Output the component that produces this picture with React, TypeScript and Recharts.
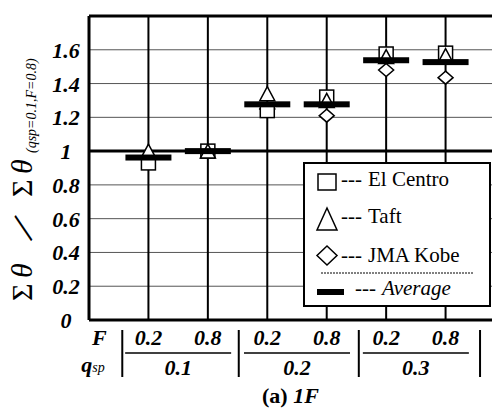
import { ScatterChart, Scatter, XAxis, YAxis, CartesianGrid, ReferenceLine, Legend } from 'recharts';

// category positions on the x axis (F within each qsp group)
const categories = [1, 2, 3, 4, 5, 6];
const fLabels = ['0.2', '0.8', '0.2', '0.8', '0.2', '0.8'];
const qspLabels = ['0.1', '0.2', '0.3'];
const groupCenters = [1.5, 3.5, 5.5];
const groupSeparators = [0.56, 2.52, 4.54, 6.58];
const yTicks = [0, 0.2, 0.4, 0.6, 0.8, 1, 1.2, 1.4, 1.6];

// normalized values
const elCentro = [0.93, 1.0, 1.24, 1.32, 1.575, 1.58];
const taft = [1.0, 1.0, 1.34, 1.3, 1.56, 1.565];
const jmaKobe = [0.955, 1.0, 1.25, 1.21, 1.48, 1.435];
const average = [0.962, 1.0, 1.277, 1.277, 1.538, 1.527];

const toPoints = (vals: number[]) => categories.map((c, i) => ({ x: c, y: vals[i] }));

const SERIF = 'Liberation Serif';

// bold italic label text used for axis ticks
const Lbl = ({ children, ...rest }: any) => (
  <text fontFamily={SERIF} fontSize={22} fontWeight={700} fontStyle="italic" fill="#000" {...rest}>
    {children}
  </text>
);

const SquareMark = (p: any) => (
  <rect x={p.cx - 7} y={p.cy - 7} width={14} height={14} fill="#fff" stroke="#000" strokeWidth={1.5} />
);
const TriangleMark = (p: any) => (
  <path d={`M${p.cx},${p.cy - 7} L${p.cx + 7.5},${p.cy + 7} L${p.cx - 7.5},${p.cy + 7} Z`} fill="#fff" stroke="#000" strokeWidth={1.5} />
);
const DiamondMark = (p: any) => (
  <path d={`M${p.cx},${p.cy - 6.5} L${p.cx + 7.5},${p.cy} L${p.cx},${p.cy + 6.5} L${p.cx - 7.5},${p.cy} Z`} fill="#fff" stroke="#000" strokeWidth={1.5} />
);
const AverageMark = (p: any) => <rect x={p.cx - 23} y={p.cy - 3} width={46} height={6} fill="#000" />;

function XTick({ x, y, payload }: any) {
  const v = payload.value;
  const ci = categories.indexOf(v);
  if (ci >= 0) {
    return (
      <Lbl x={x} y={y + 25} textAnchor="middle">
        {fLabels[ci]}
      </Lbl>
    );
  }
  const gi = groupCenters.indexOf(v);
  if (gi >= 0) {
    return (
      <g>
        <line x1={x - 53} x2={x + 53} y1={y + 33} y2={y + 33} stroke="#000" strokeWidth={1.5} />
        <Lbl x={x} y={y + 55} textAnchor="middle">
          {qspLabels[gi]}
        </Lbl>
      </g>
    );
  }
  const si = groupSeparators.indexOf(v);
  return (
    <g>
      <line x1={x} x2={x} y1={y + 10} y2={y + 57} stroke="#000" strokeWidth={2} />
      {si === 0 && (
        <g>
          <Lbl x={x - 23} y={y + 25} textAnchor="middle">F</Lbl>
          <Lbl x={x - 41} y={y + 52}>
            q<tspan fontSize={14} fontWeight={400}>sp</tspan>
          </Lbl>
        </g>
      )}
    </g>
  );
}

function YTick({ x, y, payload }: any) {
  return (
    <Lbl x={x - 23} y={y + 8} textAnchor="middle">
      {String(payload.value)}
    </Lbl>
  );
}

function YTitle() {
  return (
    <g transform="translate(32,301) rotate(-90)">
      <text fontFamily={SERIF} fontSize={30} fill="#000">
        <tspan x={0} y={0}>Σ</tspan>
        <tspan x={23} y={0} fontStyle="italic">θ</tspan>
        <tspan x={104} y={0}>Σ</tspan>
        <tspan x={127} y={0} fontStyle="italic">θ</tspan>
        <tspan x={148} y={4} fontStyle="italic" fontSize={14}>(qsp=0.1,F=0.8)</tspan>
      </text>
      <g transform="translate(73,-9) rotate(37)">
        <text x={0} y={14} textAnchor="middle" fontFamily={SERIF} fontSize={42} fill="#000">/</text>
      </g>
    </g>
  );
}

function LegendBox() {
  const t = { fontFamily: SERIF, fontSize: 21, fill: '#000' };
  return (
    <div style={{ width: 188, height: 145, border: '2px solid #000', background: '#fff', boxSizing: 'border-box' }}>
      <svg width={184} height={141} style={{ display: 'block' }}>
        <rect x={13} y={10} width={18} height={16} fill="#fff" stroke="#000" strokeWidth={1.5} />
        <text x={36} y={22} {...t}>---</text>
        <text x={63} y={22} {...t}>El Centro</text>
        <path d="M22,44 L32,66 L12,66 Z" fill="#fff" stroke="#000" strokeWidth={1.5} />
        <text x={36} y={59} {...t}>---</text>
        <text x={63} y={59} {...t}>Taft</text>
        <path d="M22,82 L32,91.5 L22,101 L12,91.5 Z" fill="#fff" stroke="#000" strokeWidth={1.5} />
        <text x={36} y={98} {...t}>---</text>
        <text x={63} y={98} {...t}>JMA Kobe</text>
        <line x1={16} x2={168} y1={109} y2={109} stroke="#000" strokeWidth={1} strokeDasharray="2 1" />
        <rect x={12} y={125} width={27} height={6} fill="#000" />
        <text x={50} y={131} {...t}>---</text>
        <text x={77} y={131} {...t} fontStyle="italic">Average</text>
      </svg>
    </div>
  );
}

const xTicks = [...categories, ...groupCenters, ...groupSeparators].sort((a, b) => a - b);

export default function App() {
  return (
    <div style={{ position: 'fixed', left: 0, top: 0, width: 492, height: 417, overflow: 'hidden', background: '#fff' }}>
      <ScatterChart width={520} height={417} margin={{ top: 16, right: 15, left: 0, bottom: 57 }}>
        <CartesianGrid horizontal vertical={false} stroke="#555" strokeWidth={1} />
        <XAxis
          type="number"
          dataKey="x"
          domain={[0, 7]}
          ticks={xTicks}
          interval={0}
          height={40}
          tickSize={0}
          tickMargin={0}
          tickLine={false}
          axisLine={{ stroke: '#000', strokeWidth: 3 }}
          tick={<XTick />}
        />
        <YAxis
          type="number"
          dataKey="y"
          domain={[0, 1.8]}
          ticks={yTicks}
          interval={0}
          width={89}
          tickSize={0}
          tickMargin={0}
          tickLine={false}
          axisLine={{ stroke: '#000', strokeWidth: 3 }}
          tick={<YTick />}
          label={<YTitle />}
        />
        <ReferenceLine y={1.8} stroke="#000" strokeWidth={3} />
        <ReferenceLine y={1} stroke="#000" strokeWidth={3} />
        {categories.map((c) => (
          <ReferenceLine key={c} x={c} stroke="#000" strokeWidth={2} />
        ))}
        <Scatter name="JMA Kobe" data={toPoints(jmaKobe)} shape={DiamondMark} isAnimationActive={false} />
        <Scatter name="El Centro" data={toPoints(elCentro)} shape={SquareMark} isAnimationActive={false} />
        <Scatter name="Taft" data={toPoints(taft)} shape={TriangleMark} isAnimationActive={false} />
        <Scatter name="Average" data={toPoints(average)} shape={AverageMark} isAnimationActive={false} />
        <Legend
          layout="horizontal"
          verticalAlign="middle"
          align="center"
          content={() => <LegendBox />}
          wrapperStyle={{ left: 303, top: 162, width: 188, height: 145 }}
        />
      </ScatterChart>
      <div style={{ position: 'absolute', left: 262, top: 383, fontFamily: SERIF, fontSize: 22, fontWeight: 700 }}>
        (a) <i>1F</i>
      </div>
    </div>
  );
}
